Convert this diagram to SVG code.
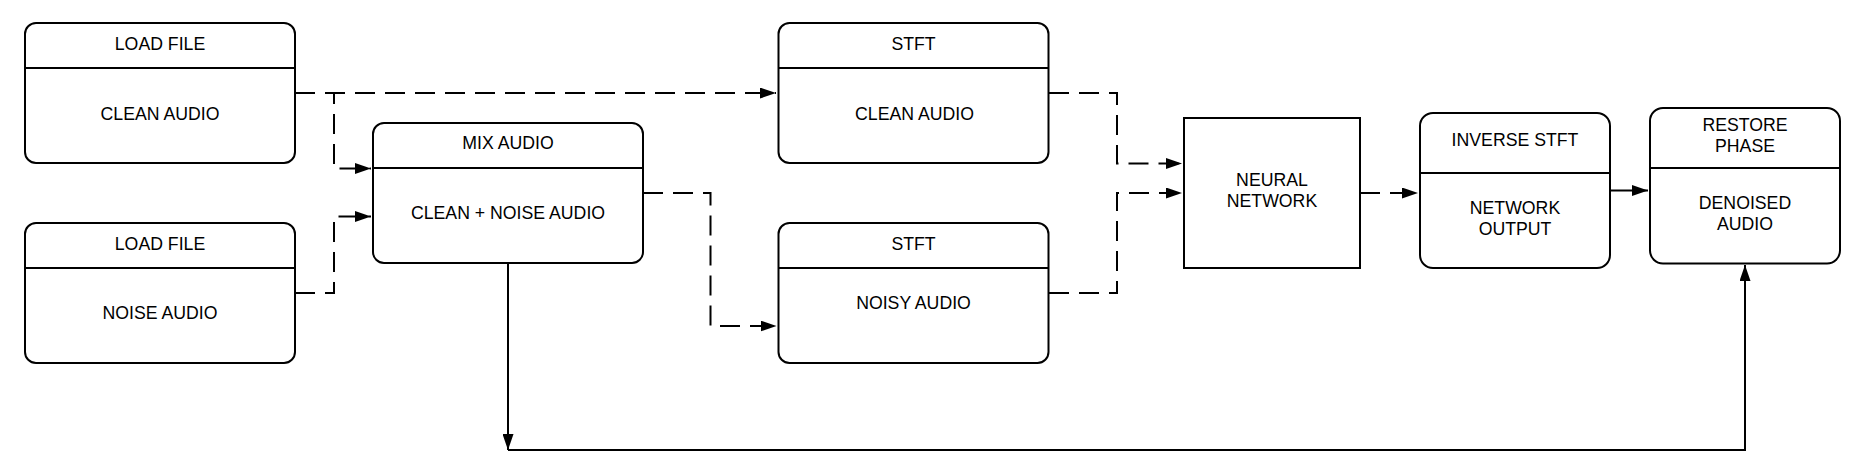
<svg xmlns="http://www.w3.org/2000/svg" width="1871" height="463" viewBox="0 0 1871 463">
<style>
.box{fill:#fff;stroke:#000;stroke-width:2}
.div{stroke:#000;stroke-width:2;fill:none}
.t{font-family:"Liberation Sans",Arial,sans-serif;font-size:17.7px;fill:#000;text-anchor:middle}
.c{fill:none;stroke:#000;stroke-width:2}
.d{stroke-dasharray:20 10}
</style>
<defs>
<marker id="arr" viewBox="0 0 16 11" refX="16" refY="5.5" markerWidth="16" markerHeight="11" markerUnits="userSpaceOnUse" orient="auto">
<path d="M0,0 L16,5.5 L0,11 z" fill="#000"/>
</marker>
</defs>
<rect width="1871" height="463" fill="#fff"/>
<g id="connectors">
<path class="c d" d="M295,93 H776" marker-end="url(#arr)"/>
<path class="c d" d="M295,93 H334 V168.5 H371" marker-end="url(#arr)"/>
<path class="c d" d="M295,293 H334 V216.5 H371" marker-end="url(#arr)"/>
<path class="c d" d="M643,193 H710.5 V326 H776.5" marker-end="url(#arr)"/>
<path class="c d" d="M1049,93 H1117 V163.5 H1182" marker-end="url(#arr)"/>
<path class="c d" d="M1049,293 H1117 V193 H1182" marker-end="url(#arr)"/>
<path class="c d" d="M1360,193 H1418" marker-end="url(#arr)"/>
<path class="c" d="M1610,190.5 H1648" marker-end="url(#arr)"/>
<path class="c" d="M508,263 V450" marker-end="url(#arr)"/>
<path class="c" d="M508,450 H1745 V265" marker-end="url(#arr)"/>
</g>
<g id="load-clean">
<rect class="box" x="25" y="23" width="270" height="140" rx="11"/>
<line class="div" x1="25" y1="68" x2="295" y2="68"/>
<text class="t" x="160" y="49.6">LOAD FILE</text>
<text class="t" x="160" y="119.5">CLEAN AUDIO</text>
</g>
<g id="load-noise">
<rect class="box" x="25" y="223" width="270" height="140" rx="11"/>
<line class="div" x1="25" y1="268" x2="295" y2="268"/>
<text class="t" x="160" y="249.6">LOAD FILE</text>
<text class="t" x="160" y="319.4">NOISE AUDIO</text>
</g>
<g id="mix">
<rect class="box" x="373" y="123" width="270" height="140" rx="11"/>
<line class="div" x1="373" y1="168" x2="643" y2="168"/>
<text class="t" x="508" y="149.4">MIX AUDIO</text>
<text class="t" x="508" y="219.4">CLEAN + NOISE AUDIO</text>
</g>
<g id="stft-clean">
<rect class="box" x="778.5" y="23" width="270" height="140" rx="11"/>
<line class="div" x1="778.5" y1="68" x2="1048.5" y2="68"/>
<text class="t" x="913.5" y="49.6">STFT</text>
<text class="t" x="914.5" y="119.5">CLEAN AUDIO</text>
</g>
<g id="stft-noisy">
<rect class="box" x="778.5" y="223" width="270" height="140" rx="11"/>
<line class="div" x1="778.5" y1="268" x2="1048.5" y2="268"/>
<text class="t" x="913.5" y="249.6">STFT</text>
<text class="t" x="913.5" y="309">NOISY AUDIO</text>
</g>
<g id="neural-network">
<rect class="box" x="1184" y="118" width="176" height="150"/>
<text class="t" x="1272" y="186">NEURAL</text>
<text class="t" x="1272" y="207.2">NETWORK</text>
</g>
<g id="inverse-stft">
<rect class="box" x="1420" y="113" width="190" height="155" rx="13"/>
<line class="div" x1="1420" y1="173" x2="1610" y2="173"/>
<text class="t" x="1515" y="146.3">INVERSE STFT</text>
<text class="t" x="1515" y="214">NETWORK</text>
<text class="t" x="1515" y="235.3">OUTPUT</text>
</g>
<g id="restore-phase">
<rect class="box" x="1650" y="108" width="190" height="155.5" rx="13"/>
<line class="div" x1="1650" y1="168" x2="1840" y2="168"/>
<text class="t" x="1745" y="131.3">RESTORE</text>
<text class="t" x="1745" y="152">PHASE</text>
<text class="t" x="1745" y="209">DENOISED</text>
<text class="t" x="1745" y="230.3">AUDIO</text>
</g>
</svg>
